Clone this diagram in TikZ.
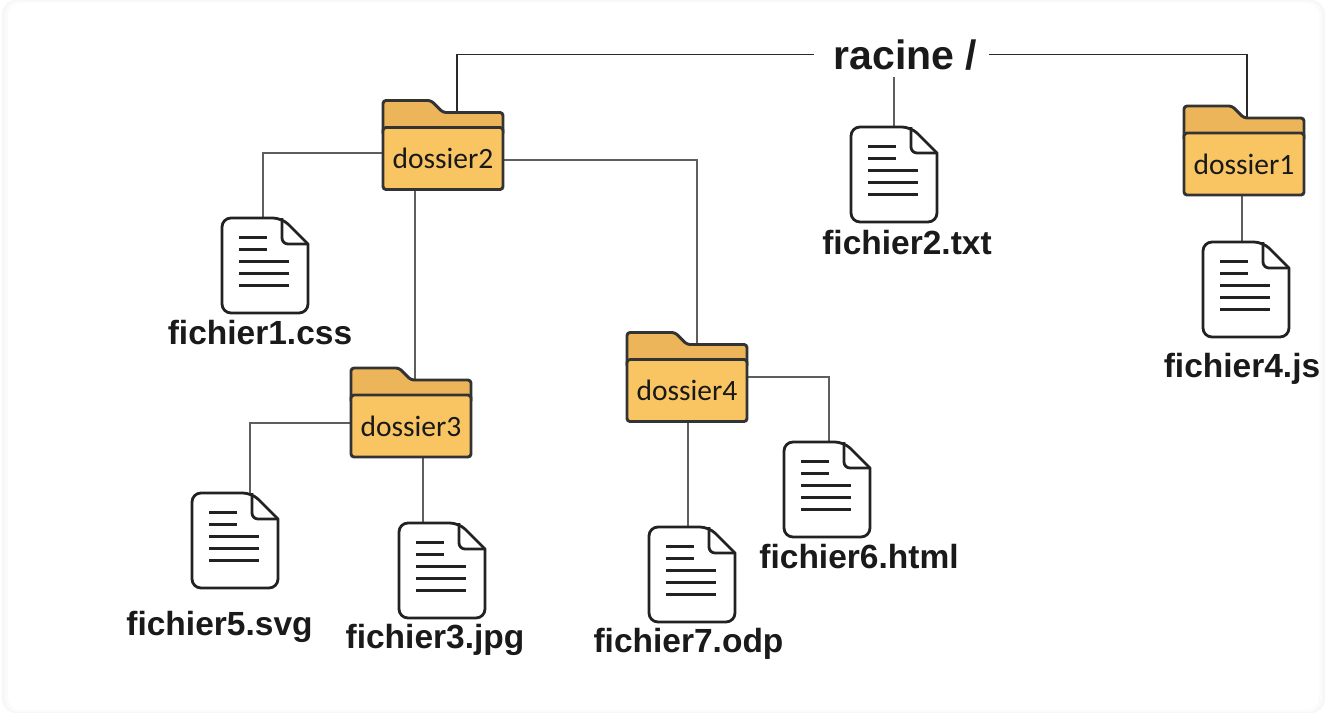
\documentclass[tikz,border=0pt]{standalone}
\usepackage{fontspec}
\setmainfont{Liberation Sans}
\newfontfamily\carlito{Carlito}
\usetikzlibrary{calc,backgrounds}
\definecolor{foldfront}{HTML}{F9C563}
\definecolor{foldback}{HTML}{EDB55A}
\definecolor{ink}{HTML}{333333}
\definecolor{fileink}{HTML}{222222}
\definecolor{wire}{HTML}{5E5E5E}
\definecolor{wiredark}{HTML}{2A2A2A}
\definecolor{labelink}{HTML}{1A1A1A}
\tikzset{
  folderline/.style={draw=ink, line width=2.9pt, rounded corners=3pt, line join=round},
  folderfront/.style={draw=ink, fill=foldfront, line width=2.9pt, rounded corners=3pt,
    minimum width=120pt, minimum height=62pt, inner sep=0pt,
    font=\carlito\fontsize{29.5}{30}\selectfont, text=black!90},
  filebox/.style={minimum width=86pt, minimum height=95pt, inner sep=0pt, outer sep=0pt},
  fileline/.style={draw=fileink, line width=2.8pt, line join=round},
  textline/.style={draw=fileink, line width=3pt},
  filelabel/.style={font=\bfseries\fontsize{33.5}{37}\selectfont, text=labelink, anchor=base, inner sep=0pt},
  wireline/.style={draw=wire, line width=1.5pt},
  wiretop/.style={draw=wiredark, line width=1.4pt}
}
\newcommand\mkfolder[4]{%
  \draw[folderline, fill=foldback] (#2-60,#3-25) -- (#2-60,#3-58) -- (#2-12,#3-58) -- (#2,#3-46) -- (#2+60,#3-46) -- (#2+60,#3-25);
  \coordinate (#1-top) at (#2,#3-46);
  \node[folderfront] (#1) at (#2,#3) {#4};
}
\newcommand\mkfile[3]{%
  \node[filebox] (#1) at (#2,#3) {};
  \draw[fileline, fill=white] (#2+43,#3-21.5) [rounded corners=9pt]-- (#2+43,#3+47.5) -- (#2-43,#3+47.5) -- (#2-43,#3-47.5) -- (#2+17,#3-47.5) [sharp corners]-- cycle;
  \draw[fileline, rounded corners=6pt] (#2+17,#3-47.5) -- (#2+17,#3-21.5) -- (#2+43,#3-21.5);
  \draw[textline] (#2-26,#3-28.5) -- (#2+2,#3-28.5);
  \draw[textline] (#2-26,#3-16.5) -- (#2+2,#3-16.5);
  \draw[textline] (#2-26,#3-4.5) -- (#2+24,#3-4.5);
  \draw[textline] (#2-26,#3+7.5) -- (#2+24,#3+7.5);
  \draw[textline] (#2-26,#3+19.5) -- (#2+24,#3+19.5);
}
\begin{document}
\begin{tikzpicture}[x=1pt,y=-1pt]
\useasboundingbox (0,0) rectangle (1326,713);

% root
\node[font=\bfseries\fontsize{41}{45}\selectfont, text=labelink, anchor=base, inner sep=0pt] (racine) at (905.5,69) {racine /};

% folders
\mkfolder{d2}{443}{158.5}{dossier2}
\mkfolder{d1}{1244}{164}{dossier1}
\mkfolder{d3}{411}{426}{dossier3}
\mkfolder{d4}{687}{390.5}{dossier4}

% files
\mkfile{f1}{265}{265.5}
\mkfile{f2}{894}{174.5}
\mkfile{f4}{1246}{289.5}
\mkfile{f5}{235}{540.5}
\mkfile{f3}{442}{570.5}
\mkfile{f7}{692}{574.5}
\mkfile{f6}{827}{489.5}

% labels
\node[filelabel] (l1) at (260,344) {fichier1.css};
\node[filelabel] (l2) at (907,254) {fichier2.txt};
\node[filelabel] (l4) at (1242,377) {fichier4.js};
\node[filelabel] (l5) at (219.5,635) {fichier5.svg};
\node[filelabel] (l3) at (435,648) {fichier3.jpg};
\node[filelabel] (l7) at (688.5,652) {fichier7.odp};
\node[filelabel] (l6) at (859,568) {fichier6.html};

\begin{pgfonlayer}{background}
  \fill[white] (0,0) rectangle (1326,713);
  \fill[black!3, rounded corners=14pt] (2,0) rectangle (1325,713);
  \fill[black!1.5, rounded corners=13pt] (5,1) rectangle (1322,712);
  \fill[white, rounded corners=12pt] (8,3) rectangle (1319,710);
  % connectors
  \draw[wiretop] ([xshift=-20pt]racine.west) -| ([xshift=14pt]d2-top);
  \draw[wiretop] ([xshift=12pt]racine.east) -| ([xshift=3pt]d1-top);
  \draw[wireline] (f2.north) -- ++(0,-50);
  \draw[wireline] ([yshift=5.5pt]d2.west) -| ([xshift=-2pt]f1.north);
  \draw[wireline] ([yshift=-1.5pt]d2.east) -| ([xshift=10pt]d4-top);
  \draw[wireline] ([xshift=-28pt]d2.south) -- ([xshift=-28pt]d2.south |- d3-top);
  \draw[wireline] ([xshift=-2pt]d1.south) -- ([xshift=-2pt]d1.south |- f4.north);
  \draw[wireline] ([yshift=3pt]d3.west) -| ([xshift=15pt]f5.north);
  \draw[wireline] ([xshift=12pt]d3.south) -- ([xshift=12pt]d3.south |- f3.north);
  \draw[wireline] ([yshift=13.5pt]d4.east) -| ([xshift=2pt]f6.north);
  \draw[wireline] ([xshift=1pt]d4.south) -- ([xshift=1pt]d4.south |- f7.north);
\end{pgfonlayer}
\end{tikzpicture}
\end{document}
